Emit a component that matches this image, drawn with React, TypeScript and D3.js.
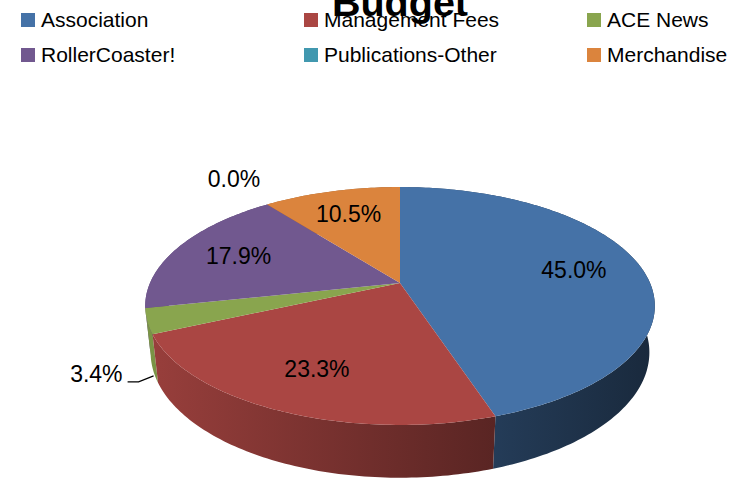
import React from "react";
import * as d3 from "d3";

const categories = ["Association", "Management Fees", "ACE News", "RollerCoaster!", "Publications-Other", "Merchandise"];
const values = [45.0, 23.3, 3.4, 17.9, 0.0, 10.5];
const colors = ["#4572A7", "#AA4643", "#89A54E", "#71588F", "#4198AF", "#DB843D"];
const title = "Budget";

const W = 738;
const H = 487;
const FONT = "'Liberation Sans', Arial, sans-serif";

// 3D perspective projection parameters
const cx = 400;
const cy = 283;
const focal = 1150;
const dist = 4.6;
const tilt = Math.asin(0.458);
const thick = 0.21;

function project(a: number, r: number, y: number): [number, number] {
  const x3 = r * Math.sin(a);
  const z3 = -r * Math.cos(a);
  const u = y * Math.cos(tilt) - z3 * Math.sin(tilt);
  const w = y * Math.sin(tilt) + z3 * Math.cos(tilt);
  const s = focal / (dist - w);
  return [cx + x3 * s, cy - u * s];
}

function arcPts(a0: number, a1: number, y: number): [number, number][] {
  const n = Math.max(2, Math.ceil(Math.abs(a1 - a0) / (Math.PI / 180)));
  return d3.range(n + 1).map((i) => project(a0 + ((a1 - a0) * i) / n, 1, y));
}

function scaleColor(c: string, k: number): string {
  const rgb = d3.rgb(c);
  return d3.rgb(rgb.r * k, rgb.g * k, rgb.b * k).formatHex();
}

export default function App() {
  const total = d3.sum(values);
  const arcs = d3.pie<number>().sort(null).value((d) => d)(values);
  const line = d3.line();

  const slices = arcs.map((a, i) => ({
    i,
    a0: a.startAngle,
    a1: a.endAngle,
    mid: (a.startAngle + a.endAngle) / 2,
    pct: (a.data / total) * 100,
  }));

  const drawn = slices.filter((s) => s.a1 - s.a0 > 1e-6);
  const wallOrder = [...drawn].sort((p, q) => -Math.cos(p.mid) - -Math.cos(q.mid));

  const xs = d3.range(0, 361).map((deg) => project((deg * Math.PI) / 180, 1, 0)[0]);
  const xMin = d3.min(xs)!;
  const xMax = d3.max(xs)!;

  const legendX = [21, 304, 587];
  const legendY = [13, 48];

  return (
    <svg width={W} height={H} style={{ position: "absolute", left: 0, top: 0, background: "#fff" }}>
      <defs>
        {colors.map((c, i) => (
          <linearGradient key={i} id={`side${i}`} gradientUnits="userSpaceOnUse" x1={xMin} x2={xMax} y1={0} y2={0}>
            <stop offset="0" stopColor={scaleColor(c, 0.9)} />
            <stop offset="0.55" stopColor={scaleColor(c, 0.6)} />
            <stop offset="1" stopColor={scaleColor(c, 0.36)} />
          </linearGradient>
        ))}
      </defs>
      <rect x={0} y={0} width={W} height={H} fill="#fff" />

      <text x={400} y={15.5} textAnchor="middle" fontFamily={FONT} fontWeight="bold" fontSize={39.5} fill="#000">
        {title}
      </text>

      {/* walls */}
      {wallOrder.map((s) => {
        const top = arcPts(s.a0, s.a1, 0);
        const bot = arcPts(s.a0, s.a1, -thick).reverse();
        return <path key={`w${s.i}`} d={line([...top, ...bot])! + "Z"} fill={`url(#side${s.i})`} />;
      })}

      {/* top faces */}
      {drawn.map((s) => {
        const pts = [project(0, 0, 0), ...arcPts(s.a0, s.a1, 0)];
        return <path key={`t${s.i}`} d={line(pts)! + "Z"} fill={colors[s.i]} />;
      })}

      {/* labels */}
      {slices.map((s) => {
        const txt = `${s.pct.toFixed(1)}%`;
        if (s.pct >= 5) {
          const [lx, ly] = project(s.mid, 0.72, 0);
          return (
            <text key={`l${s.i}`} x={lx} y={ly + 8} textAnchor="middle" fontFamily={FONT} fontSize={23} fill="#000">
              {txt}
            </text>
          );
        }
        if (s.pct < 0.05) {
          const [lx, ly] = project(s.mid, 1.3, 0);
          return (
            <text key={`l${s.i}`} x={lx} y={ly + 2} textAnchor="middle" fontFamily={FONT} fontSize={23} fill="#000">
              {txt}
            </text>
          );
        }
        const end = project(s.mid, 1, -thick * 1.15);
        const elbow: [number, number] = [end[0] - 15, end[1] + 6];
        const start: [number, number] = [elbow[0] - 11, elbow[1]];
        return (
          <g key={`l${s.i}`}>
            <path d={line([start, elbow, end])!} fill="none" stroke="#000" strokeWidth={1.2} />
            <text x={start[0] - 5} y={elbow[1]} textAnchor="end" fontFamily={FONT} fontSize={23} fill="#000">
              {txt}
            </text>
          </g>
        );
      })}

      {/* legend */}
      {categories.map((c, i) => {
        const col = i % 3;
        const row = Math.floor(i / 3);
        const x = legendX[col];
        const y = legendY[row];
        return (
          <g key={`lg${i}`}>
            <rect x={x} y={y} width={14} height={14} fill={colors[i]} />
            <text x={x + 20} y={y + 14} fontFamily={FONT} fontSize={21} fill="#000">
              {c}
            </text>
          </g>
        );
      })}
    </svg>
  );
}
